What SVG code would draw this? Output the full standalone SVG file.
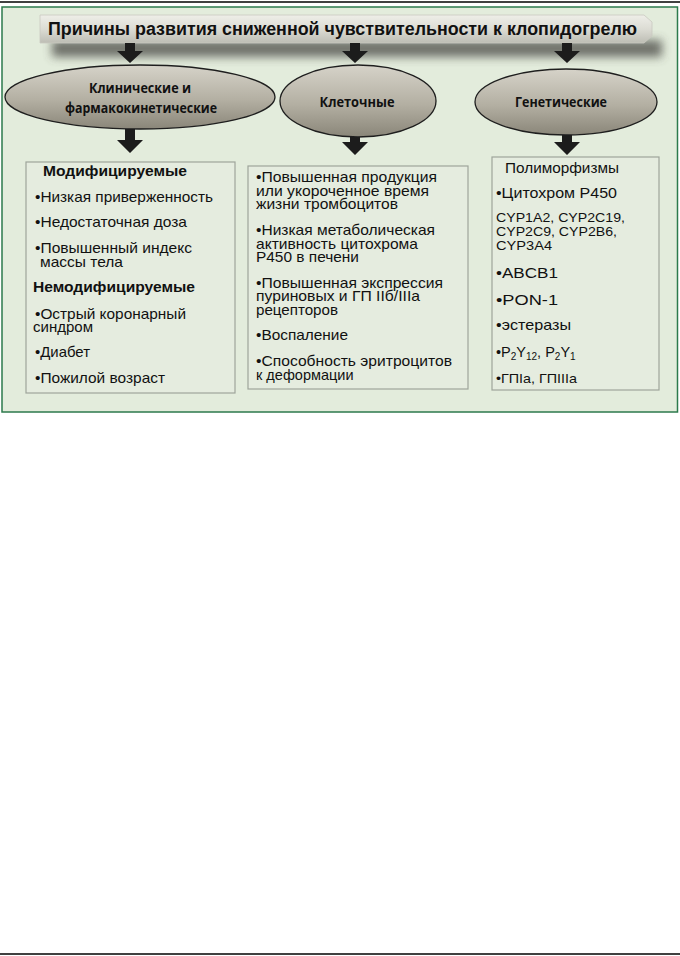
<svg xmlns="http://www.w3.org/2000/svg" width="680" height="956" viewBox="0 0 680 956">
<defs>
<linearGradient id="gBanner" x1="0" y1="0" x2="0" y2="1">
<stop offset="0" stop-color="#eeeee8"/>
<stop offset="0.5" stop-color="#dcdcd4"/>
<stop offset="1" stop-color="#bdbdb4"/>
</linearGradient>
<linearGradient id="gEll" x1="0" y1="0" x2="0" y2="1">
<stop offset="0" stop-color="#d6d3c9"/>
<stop offset="0.55" stop-color="#b3afa2"/>
<stop offset="1" stop-color="#8a8679"/>
</linearGradient>
<filter id="blur" x="-10%" y="-100%" width="120%" height="300%">
<feGaussianBlur stdDeviation="5"/>
</filter>
</defs>
<style>
.box{fill:#e5ecdf;stroke:#9ea59b;stroke-width:1.2}
.ell{fill:url(#gEll);stroke:#1e1e1e;stroke-width:1.3}
.et{font-family:"Open Sans","Liberation Sans",sans-serif;font-weight:bold;font-size:14px;fill:#111;text-anchor:middle}
.t{font-family:"Liberation Sans",Arial,sans-serif;font-size:14.5px;fill:#111}
.s{font-family:"Liberation Sans",Arial,sans-serif;font-size:13.5px;fill:#111}
.b{font-family:"Liberation Sans",Arial,sans-serif;font-size:14.5px;font-weight:bold;fill:#111}
.arr{fill:#1c1c1c}
</style>
<rect x="0" y="0" width="680" height="956" fill="#ffffff"/>
<line x1="0" y1="2" x2="680" y2="2" stroke="#000" stroke-width="1.5"/>
<line x1="0" y1="954" x2="680" y2="954" stroke="#000" stroke-width="1.5"/>
<rect x="2" y="7" width="675.5" height="405" fill="#e3ecdc" stroke="#2c7a4c" stroke-width="1.5"/>

<g id="title">
<rect x="52" y="40" width="610" height="17" fill="#4a4a44" opacity="0.75" filter="url(#blur)"/>
<path d="M40,15 L644,15 L652,22 L652,36 L644,43 L40,43 Z" fill="url(#gBanner)" stroke="#c9c9c0" stroke-width="0.8"/>
<text x="48" y="35" font-family="Liberation Sans, Arial, sans-serif" font-weight="bold" font-size="18" fill="#111" textLength="589" lengthAdjust="spacingAndGlyphs">Причины развития  сниженной чувствительности  к клопидогрелю</text>
</g>

<g id="connectors">
<polygon class="arr" points="125,43 135,43 135,51 143,51 130,63 117,51 125,51"/>
<polygon class="arr" points="350,43 360,43 360,51 368,51 355,63 342,51 350,51"/>
<polygon class="arr" points="562,43 572,43 572,51 580,51 567,63 554,51 562,51"/>
<polygon class="arr" points="125,128 135,128 135,140 143,140 130,153 117,140 125,140"/>
<polygon class="arr" points="350,137 360,137 360,142 368,142 355,155 342,142 350,142"/>
<polygon class="arr" points="562,135 572,135 572,142 580,142 567,155 554,142 562,142"/>
</g>

<g id="clinical">
<ellipse class="ell" cx="140" cy="97" rx="135" ry="32"/>
<text class="et" x="140" y="93" textLength="102" lengthAdjust="spacingAndGlyphs">Клинические и</text>
<text class="et" x="141" y="113" textLength="152" lengthAdjust="spacingAndGlyphs">фармакокинетические</text>
</g>
<g id="cellular">
<ellipse class="ell" cx="358" cy="101" rx="78" ry="36"/>
<text class="et" x="357" y="107" textLength="75" lengthAdjust="spacingAndGlyphs">Клеточные</text>
</g>
<g id="genetic">
<ellipse class="ell" cx="566" cy="102" rx="91" ry="33"/>
<text class="et" x="561" y="107" textLength="92" lengthAdjust="spacingAndGlyphs">Генетические</text>
</g>

<g id="box-clinical">
<rect class="box" x="26" y="162" width="209" height="231"/>
<text class="b" x="43" y="176" textLength="144" lengthAdjust="spacingAndGlyphs">Модифицируемые</text>
<text class="t" x="35" y="202" textLength="178" lengthAdjust="spacingAndGlyphs">•Низкая приверженность</text>
<text class="t" x="35" y="227" textLength="152" lengthAdjust="spacingAndGlyphs">•Недостаточная доза</text>
<text class="t" x="35" y="253" textLength="157" lengthAdjust="spacingAndGlyphs">•Повышенный индекс</text>
<text class="t" x="40" y="267" textLength="83" lengthAdjust="spacingAndGlyphs">массы тела</text>
<text class="b" x="33" y="292" textLength="162" lengthAdjust="spacingAndGlyphs">Немодифицируемые</text>
<text class="t" x="35" y="319" textLength="151" lengthAdjust="spacingAndGlyphs">•Острый коронарный</text>
<text class="t" x="33" y="332" textLength="60" lengthAdjust="spacingAndGlyphs">синдром</text>
<text class="t" x="35" y="357" textLength="55" lengthAdjust="spacingAndGlyphs">•Диабет</text>
<text class="t" x="35" y="383" textLength="130" lengthAdjust="spacingAndGlyphs">•Пожилой возраст</text>
</g>

<g id="box-cellular">
<rect class="box" x="248" y="166" width="220" height="223"/>
<text class="t" x="256" y="182" textLength="181" lengthAdjust="spacingAndGlyphs">•Повышенная продукция</text>
<text class="t" x="256" y="196" textLength="173" lengthAdjust="spacingAndGlyphs">или укороченное время</text>
<text class="t" x="256" y="209" textLength="142" lengthAdjust="spacingAndGlyphs">жизни тромбоцитов</text>
<text class="t" x="256" y="235" textLength="179" lengthAdjust="spacingAndGlyphs">•Низкая метаболическая</text>
<text class="t" x="256" y="249" textLength="162" lengthAdjust="spacingAndGlyphs">активность цитохрома</text>
<text class="t" x="256" y="262" textLength="103" lengthAdjust="spacingAndGlyphs">Р450 в печени</text>
<text class="t" x="256" y="288" textLength="187" lengthAdjust="spacingAndGlyphs">•Повышенная экспрессия</text>
<text class="t" x="256" y="301" textLength="164" lengthAdjust="spacingAndGlyphs">пуриновых и ГП IIб/IIIa</text>
<text class="t" x="256" y="315" textLength="82" lengthAdjust="spacingAndGlyphs">рецепторов</text>
<text class="t" x="256" y="340" textLength="92" lengthAdjust="spacingAndGlyphs">•Воспаление</text>
<text class="t" x="256" y="366" textLength="196" lengthAdjust="spacingAndGlyphs">•Способность эритроцитов</text>
<text class="t" x="256" y="380" font-size="14">к деформации</text>
</g>

<g id="box-genetic">
<rect class="box" x="492" y="157" width="167" height="233"/>
<text class="t" x="505" y="173" textLength="114" lengthAdjust="spacingAndGlyphs">Полиморфизмы</text>
<text class="t" x="496" y="198" textLength="121" lengthAdjust="spacingAndGlyphs">•Цитохром  Р450</text>
<text class="s" x="496" y="222" textLength="129" lengthAdjust="spacingAndGlyphs">CYP1A2, CYP2C19,</text>
<text class="s" x="496" y="236" textLength="121" lengthAdjust="spacingAndGlyphs">CYP2C9, CYP2B6,</text>
<text class="s" x="496" y="250" textLength="56" lengthAdjust="spacingAndGlyphs">CYP3A4</text>
<text class="t" x="496" y="278" font-size="15.5" textLength="62" lengthAdjust="spacingAndGlyphs">•ABCB1</text>
<text class="t" x="496" y="305" font-size="15.5" textLength="62" lengthAdjust="spacingAndGlyphs">•PON-1</text>
<text class="t" x="496" y="330" textLength="75" lengthAdjust="spacingAndGlyphs">•эстеразы</text>
<text class="t" x="496" y="357" font-size="15">•P<tspan font-size="10" dy="3">2</tspan><tspan dy="-3">Y</tspan><tspan font-size="10" dy="3">12</tspan><tspan dy="-3">, P</tspan><tspan font-size="10" dy="3">2</tspan><tspan dy="-3">Y</tspan><tspan font-size="10" dy="3">1</tspan></text>
<text class="s" x="496" y="383" font-size="12.5" textLength="81" lengthAdjust="spacingAndGlyphs">•ГПIa, ГПIIIa</text>
</g>
</svg>
